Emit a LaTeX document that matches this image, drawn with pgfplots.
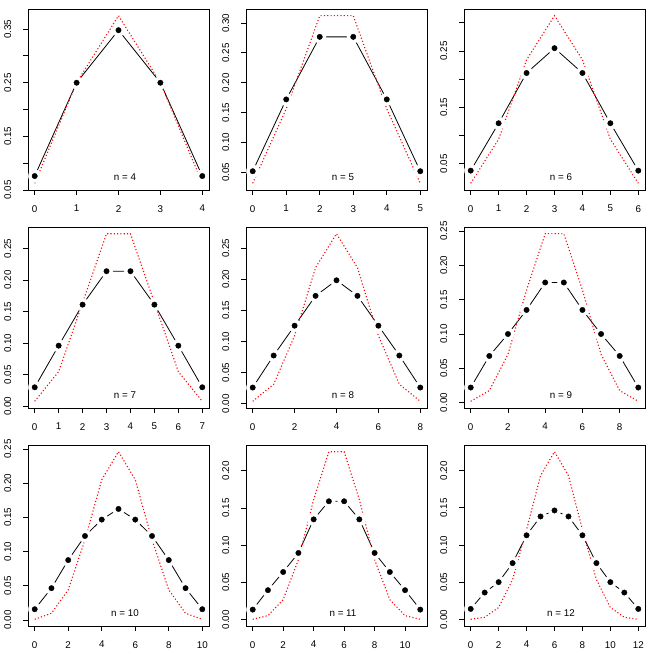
\documentclass[border=0pt]{standalone}
\usepackage{fontspec}
\setmainfont{Liberation Sans}
\usepackage{pgfplots}
\usepackage{pgfplotstable}
\pgfplotsset{compat=1.18}

% k = count, b = black points, r = binomial(n, 0.5)
\pgfplotstableread{
k b r
0 0.076 0.0625
1 0.250 0.25
2 0.348 0.375
3 0.250 0.25
4 0.076 0.0625
}\tFour
\pgfplotstableread{
k b r
0 0.0515 0.03125
1 0.172 0.15625
2 0.277 0.3125
3 0.277 0.3125
4 0.172 0.15625
5 0.0515 0.03125
}\tFive
\pgfplotstableread{
k b r
0 0.038 0.015625
1 0.122 0.09375
2 0.211 0.234375
3 0.255 0.3125
4 0.211 0.234375
5 0.122 0.09375
6 0.038 0.015625
}\tSix
\pgfplotstableread{
k b r
0 0.030 0.0078125
1 0.096 0.0546875
2 0.161 0.1640625
3 0.214 0.2734375
4 0.214 0.2734375
5 0.161 0.1640625
6 0.096 0.0546875
7 0.030 0.0078125
}\tSeven
\pgfplotstableread{
k b r
0 0.026 0.00390625
1 0.0775 0.03125
2 0.1255 0.109375
3 0.1735 0.21875
4 0.1985 0.2734375
5 0.1735 0.21875
6 0.1255 0.109375
7 0.0775 0.03125
8 0.026 0.00390625
}\tEight
\pgfplotstableread{
k b r
0 0.022 0.001953125
1 0.068 0.017578125
2 0.100 0.0703125
3 0.135 0.1640625
4 0.175 0.24609375
5 0.175 0.24609375
6 0.135 0.1640625
7 0.100 0.0703125
8 0.068 0.017578125
9 0.022 0.001953125
}\tNine
\pgfplotstableread{
k b r
0 0.0157 0.0009765625
1 0.0465 0.009765625
2 0.0876 0.0439453125
3 0.1228 0.1171875
4 0.1468 0.205078125
5 0.1624 0.24609375
6 0.1468 0.205078125
7 0.1228 0.1171875
8 0.0876 0.0439453125
9 0.0465 0.009765625
10 0.0157 0.0009765625
}\tTen
\pgfplotstableread{
k b r
0 0.0135 0.00048828
1 0.0396 0.00537109
2 0.064 0.02685547
3 0.0896 0.08056641
4 0.1347 0.16113281
5 0.159 0.22558594
6 0.159 0.22558594
7 0.1347 0.16113281
8 0.0896 0.08056641
9 0.064 0.02685547
10 0.0396 0.00537109
11 0.0135 0.00048828
}\tEleven
\pgfplotstableread{
k b r
0 0.0142 0.00024414
1 0.0362 0.00292969
2 0.0502 0.01611328
3 0.0758 0.05371094
4 0.1132 0.12084961
5 0.1385 0.19335938
6 0.1466 0.22558594
7 0.1385 0.19335938
8 0.1132 0.12084961
9 0.0758 0.05371094
10 0.0502 0.01611328
11 0.0362 0.00292969
12 0.0142 0.00024414
}\tTwelve

\pgfplotsset{
  panel/.style={
    width=181pt, height=181pt, scale only axis,
    anchor=south west,
    axis on top,
    tick align=outside,
    major tick length=5pt,
    xtick pos=bottom, ytick pos=left,
    axis line style={line width=0.9pt},
    every tick/.style={black, line width=0.9pt},
    every tick label/.append style={font=\fontsize{9.8}{11}\selectfont, inner sep=0pt},
    xticklabel style={anchor=north},
    yticklabel style={rotate=90, anchor=south},
    xticklabel shift=10pt-0.333em,
    yticklabel shift=11.5pt-0.333em,
    /pgf/number format/assume math mode=true,
  },
}

\newcommand{\panel}[2]{%
  \addplot[black, line width=0.8pt] table[x=k, y=b] {#1};
  \addplot[white, only marks, mark=*, mark size=6.3pt] table[x=k, y=b] {#1};
  \addplot[only marks, mark=*, mark size=2.7pt, black] table[x=k, y=b] {#1};
  \addplot[red, line width=1.1pt, dash pattern=on 1.1pt off 2.2pt] table[x=k, y=r] {#1};
  \node[anchor=base, font=\fontsize{9.8}{11}\selectfont, xshift=6.5pt, yshift=9.5pt] at (rel axis cs:0.5,0) {#2};
}

\begin{document}
\begin{tikzpicture}
\useasboundingbox (0,0) rectangle (654pt,654pt);

% row 1
\begin{axis}[panel, at={(28pt,464pt)},
  xmin=-0.16, xmax=4.16, ymin=0.05, ymax=0.3875,
  xtick={0,1,2,3,4},
  ytick={0.05,0.10,0.15,0.20,0.25,0.30,0.35},
  yticklabels={0.05,,0.15,,0.25,,0.35}]
\panel{\tFour}{n = 4}
\end{axis}

\begin{axis}[panel, at={(246pt,464pt)},
  xmin=-0.2, xmax=5.2, ymin=0.02, ymax=0.32375,
  xtick={0,1,2,3,4,5},
  ytick={0.05,0.10,0.15,0.20,0.25,0.30},
  yticklabels={0.05,0.10,0.15,0.20,0.25,0.30}]
\panel{\tFive}{n = 5}
\end{axis}

\begin{axis}[panel, at={(464pt,464pt)},
  xmin=-0.24, xmax=6.24, ymin=0.00375, ymax=0.324375,
  xtick={0,1,2,3,4,5,6},
  ytick={0.05,0.10,0.15,0.20,0.25,0.30},
  yticklabels={0.05,,0.15,,0.25,}]
\panel{\tSix}{n = 6}
\end{axis}

% row 2
\begin{axis}[panel, at={(28pt,246pt)},
  xmin=-0.28, xmax=7.28, ymin=-0.0028125, ymax=0.2840625,
  xtick={0,1,2,3,4,5,6,7},
  ytick={0,0.05,0.10,0.15,0.20,0.25},
  yticklabels={0.00,0.05,0.10,0.15,0.20,0.25}]
\panel{\tSeven}{n = 7}
\end{axis}

\begin{axis}[panel, at={(246pt,246pt)},
  xmin=-0.32, xmax=8.32, ymin=-0.006875, ymax=0.2842188,
  xtick={0,2,4,6,8},
  ytick={0,0.05,0.10,0.15,0.20,0.25},
  yticklabels={0.00,0.05,0.10,0.15,0.20,0.25}]
\panel{\tEight}{n = 8}
\end{axis}

\begin{axis}[panel, at={(464pt,246pt)},
  xmin=-0.36, xmax=9.36, ymin=-0.0078125, ymax=0.2558594,
  xtick={0,2,4,6,8},
  ytick={0,0.05,0.10,0.15,0.20,0.25},
  yticklabels={0.00,0.05,0.10,0.15,0.20,0.25}]
\panel{\tNine}{n = 9}
\end{axis}

% row 3
\begin{axis}[panel, at={(28pt,28pt)},
  xmin=-0.4, xmax=10.4, ymin=-0.0088281, ymax=0.2558984,
  xtick={0,2,4,6,8,10},
  ytick={0,0.05,0.10,0.15,0.20,0.25},
  yticklabels={0.00,0.05,0.10,0.15,0.20,0.25}]
\panel{\tTen}{n = 10}
\end{axis}

\begin{axis}[panel, at={(246pt,28pt)},
  xmin=-0.44, xmax=11.44, ymin=-0.0085156, ymax=0.2345898,
  xtick={0,2,4,6,8,10},
  ytick={0,0.05,0.10,0.15,0.20},
  yticklabels={0.00,0.05,0.10,0.15,0.20}]
\panel{\tEleven}{n = 11}
\end{axis}

\begin{axis}[panel, at={(464pt,28pt)},
  xmin=-0.48, xmax=12.48, ymin=-0.0087695, ymax=0.2345996,
  xtick={0,2,4,6,8,10,12},
  ytick={0,0.05,0.10,0.15,0.20},
  yticklabels={0.00,0.05,0.10,0.15,0.20}]
\panel{\tTwelve}{n = 12}
\end{axis}

\end{tikzpicture}
\end{document}
